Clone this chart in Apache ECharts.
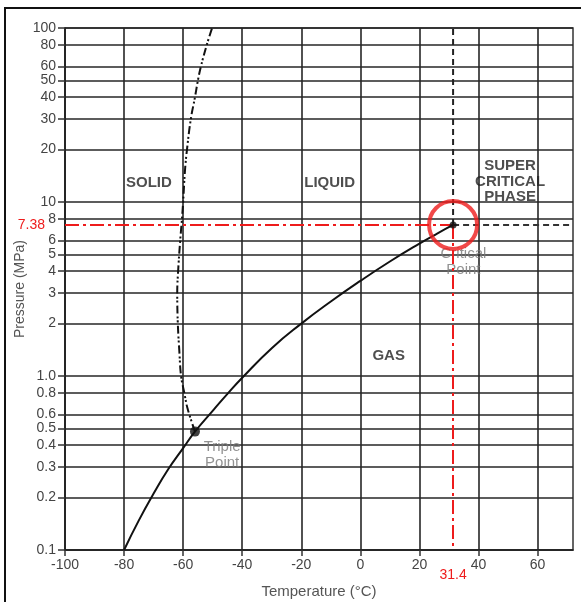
<!DOCTYPE html>
<html><head><meta charset="utf-8">
<script src="https://cdn.jsdelivr.net/npm/echarts@6/dist/echarts.min.js"></script>
<style>html,body{margin:0;padding:0;background:#fff}#c{width:581px;height:602px}</style>
</head><body><div id="c"></div>
<script>
// ---- data ----
const xTicks = [-100, -80, -60, -40, -20, 0, 20, 40, 60];
const yTicks = [0.1, 0.2, 0.3, 0.4, 0.5, 0.6, 0.8, 1, 2, 3, 4, 5, 6, 8, 10, 20, 30, 40, 50, 60, 80, 100];
const yTickLabels = ['0.1','0.2','0.3','0.4','0.5','0.6','0.8','1.0','2','3','4','5','6','8','10','20','30','40','50','60','80','100'];
const xMin = -100, xMax = 72, yMin = 0.1, yMax = 100;

// sublimation + vaporization curve (T °C, P MPa)
const vaporT = [-80, -75, -70, -65, -60, -56, -50, -45, -40, -30, -20, -10, 0, 10, 20, 26, 31.4];
const vaporP = [0.1, 0.148, 0.211, 0.292, 0.385, 0.479, 0.631, 0.789, 0.977, 1.445, 2.0, 2.68, 3.52, 4.55, 5.77, 6.59, 7.38];
// melting curve
const meltT = [-56, -58.5, -59.6, -60.7, -61.3, -61.8, -62, -61.7, -61, -60.4, -60, -59.4, -58.7, -57.4, -56, -55, -54, -52, -50.2];
const meltP = [0.479, 0.65, 0.8, 1.0, 1.4, 2, 3, 4, 6, 8, 10, 15, 20, 30, 40, 50, 60, 80, 100];

const critical = [31.4, 7.38];
const triple = [-56, 0.479];

const regionNames = ['SOLID', 'LIQUID', 'SUPER\nCRITICAL\nPHASE', 'GAS'];
const regionT = [-71.6, -10.4, 50.7, 9.6];
const regionP = [12.8, 12.8, 13.1, 1.3];
const pointNames = ['Critical\nPoint', 'Triple\nPoint'];
const pointT = [34.9, -46.8];
const pointP = [4.52, 0.354];

// ---- chart ----
const zip = (a, b) => a.map((v, i) => [v, b[i]]);
const FONT = 'Liberation Sans, Arial, Helvetica, sans-serif';
const RED = '#ee1c1c';

const chart = echarts.init(document.getElementById('c'), null, {renderer: 'canvas'});
chart.setOption({
  animation: false,
  backgroundColor: '#fff',
  textStyle: {fontFamily: FONT},
  grid: {left: 65, right: 8, top: 28, bottom: 52, containLabel: false, outerBoundsMode: 'none',
         show: true, borderColor: '#333', borderWidth: 1.5},
  graphic: [
    {type: 'polyline', shape: {points: [[5, 602], [5, 8], [581, 8]]},
     style: {stroke: '#111', lineWidth: 2, fill: null}, silent: true}
  ],
  xAxis: {
    type: 'value', min: xMin, max: xMax,
    name: 'Temperature (°C)', nameLocation: 'middle', nameGap: 34,
    nameTextStyle: {color: '#555', fontSize: 15, fontFamily: FONT},
    axisLine: {show: true, onZero: false, lineStyle: {color: '#222', width: 1.5}},
    axisTick: {show: true, customValues: xTicks, length: 6, lineStyle: {color: '#333', width: 1.5}},
    axisLabel: {customValues: xTicks, color: '#444', fontSize: 14, margin: 8, fontFamily: FONT},
    splitLine: {show: true, lineStyle: {color: '#262626', width: 1.6}}
  },
  yAxis: {
    type: 'log', logBase: 10, min: yMin, max: yMax,
    name: 'Pressure (MPa)', nameLocation: 'middle', nameGap: 38, nameRotate: 90,
    nameMoveOverlap: false,
    nameTextStyle: {color: '#555', fontSize: 14, fontFamily: FONT},
    axisLine: {show: true, onZero: false, lineStyle: {color: '#222', width: 1.5}},
    axisTick: {show: true, customValues: yTicks, length: 7, lineStyle: {color: '#333', width: 1.5}},
    axisLabel: {
      customValues: yTicks, color: '#444', fontSize: 14, margin: 9, fontFamily: FONT,
      formatter: function (v) {
        let best = 0, bd = Infinity;
        yTicks.forEach((t, i) => { const d = Math.abs(Math.log10(v) - Math.log10(t)); if (d < bd) { bd = d; best = i; } });
        return yTickLabels[best];
      }
    },
    splitLine: {show: true, lineStyle: {color: '#262626', width: 1.6}},
    minorSplitLine: {show: false}
  },
  series: [
    {
      name: 'vapor', type: 'line', data: zip(vaporT, vaporP), smooth: 0.5,
      symbol: 'none', lineStyle: {color: '#111', width: 2}, z: 5
    },
    {
      name: 'melt', type: 'line', data: zip(meltT, meltP), smooth: 0.4,
      symbol: 'none', lineStyle: {color: '#111', width: 2, type: [8, 3, 2, 2, 2, 3]}, z: 5
    },
    {
      name: 'critV', type: 'line', data: [critical, [critical[0], yMax]],
      symbol: 'none', lineStyle: {color: '#222', width: 2, type: [6, 4]}, z: 4
    },
    {
      name: 'critH', type: 'line', data: [critical, [xMax, critical[1]]],
      symbol: 'none', lineStyle: {color: '#333', width: 2, type: [6, 4]}, z: 4
    },
    {
      name: 'redGuides', type: 'line', data: [],
      markLine: {
        silent: true, symbol: ['none', 'none'], animation: false,
        lineStyle: {color: RED, width: 2, type: [14, 4, 3, 4]},
        data: [
          [{coord: [xMin, critical[1]],
            label: {show: true, position: 'start', formatter: '7.38', color: RED, fontSize: 14, distance: 20, fontFamily: FONT}},
           {coord: critical}],
          [{coord: critical,
            label: {show: true, position: 'end', formatter: '31.4', color: RED, fontSize: 14, distance: 18, fontFamily: FONT}},
           {coord: [critical[0], yMin]}]
        ]
      },
      z: 6
    },
    {
      name: 'points', type: 'scatter',
      data: [{value: critical, symbolSize: 7}, {value: triple, symbolSize: 10}],
      itemStyle: {color: '#111'}, z: 7
    },
    {
      name: 'ring', type: 'scatter', data: [critical], symbol: 'circle', symbolSize: 48,
      itemStyle: {color: 'rgba(0,0,0,0)', borderColor: RED, borderWidth: 4}, z: 8
    },
    {
      name: 'regions', type: 'scatter', symbolSize: 0,
      data: regionNames.map((n, i) => ({name: n, value: [regionT[i], regionP[i]]})),
      label: {show: true, position: 'inside', formatter: '{b}', color: '#222',
              fontSize: 15, fontWeight: 'bold', lineHeight: 15.5, fontFamily: FONT},
      z: 9
    },
    {
      name: 'pointLabels', type: 'scatter', symbolSize: 0,
      data: pointNames.map((n, i) => ({name: n, value: [pointT[i], pointP[i]]})),
      label: {show: true, position: 'inside', formatter: '{b}', color: '#777',
              fontSize: 15, lineHeight: 16, fontFamily: FONT},
      z: 3
    }
  ]
});
</script></body></html>
